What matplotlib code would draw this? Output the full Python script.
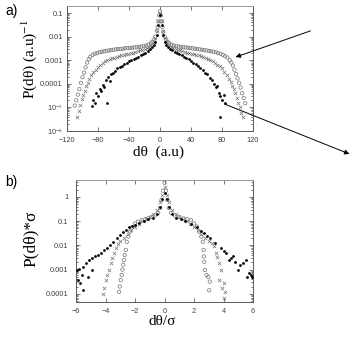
import matplotlib
matplotlib.use("Agg")
import matplotlib.pyplot as plt
from matplotlib.patches import FancyArrowPatch
from matplotlib.ticker import FixedLocator, FixedFormatter, LogLocator, NullFormatter

# ---- panel a data ----
a_circ_x = [-110, -108, -106, -104, -102, -100, -98, -96, -94, -92, -90, -87, -84, -81, -78, -75,
            -72, -69, -66, -63, -60, -57, -54, -51, -48, -45, -42, -39, -36, -33, -30, -27, -24,
            -21, -18, -15, -12, -10, -8, -6, -4, -3, -2, -1, 0, 1, 2, 3, 4, 6, 8, 10, 12, 15,
            18, 21, 24, 27, 30, 33, 36, 39, 42, 45, 48, 51, 54, 57, 60, 63, 66, 69, 72, 75, 78,
            81, 84, 87, 90, 92, 94, 96, 98, 100, 102, 104, 106, 108, 110]
a_circ_y = [1.2e-5, 2e-5, 3.5e-5, 6e-5, 1.1e-4, 1.9e-4, 3e-4, 5e-4, 8e-4, 1.1e-3, 1.4e-3, 1.7e-3,
            1.9e-3, 2.0e-3, 2.2e-3, 2.3e-3, 2.4e-3, 2.5e-3, 2.6e-3, 2.7e-3, 2.8e-3, 2.9e-3,
            3.0e-3, 3.0e-3, 3.1e-3, 3.2e-3, 3.3e-3, 3.3e-3, 3.4e-3, 3.5e-3, 3.6e-3, 3.7e-3,
            3.8e-3, 4.0e-3, 4.2e-3, 4.6e-3, 5.2e-3, 6e-3, 7.5e-3, 1e-2, 1.8e-2, 2.6e-2, 4.5e-2,
            8e-2, 0.12, 8e-2, 4.5e-2, 2.6e-2, 1.6e-2, 1e-2, 7.5e-3, 6e-3, 5.2e-3, 4.6e-3,
            4.2e-3, 4.0e-3, 3.8e-3, 3.7e-3, 3.6e-3, 3.5e-3, 3.4e-3, 3.3e-3, 3.2e-3, 3.1e-3,
            3.0e-3, 2.9e-3, 2.8e-3, 2.7e-3, 2.6e-3, 2.5e-3, 2.4e-3, 2.3e-3, 2.2e-3, 2.0e-3,
            1.9e-3, 1.7e-3, 1.5e-3, 1.3e-3, 1.0e-3, 8e-4, 6e-4, 4e-4, 2.6e-4, 1.7e-4, 1.1e-4,
            7e-5, 4e-5, 2.5e-5, 1.5e-5]

a_cross_x = [-107, -105, -103, -101, -99, -97, -95, -93, -91, -89, -86, -83, -80, -77, -74, -71,
             -68, -65, -62, -59, -56, -53, -50, -47, -44, -41, -38, -35, -32, -29, -26, -23, -20,
             -17, -14, -11, -8, -6, -4, -2, 0, 2, 4, 6, 8, 11, 14, 17, 20, 23, 26, 29, 32, 35,
             38, 41, 44, 47, 50, 53, 56, 59, 62, 65, 68, 71, 74, 77, 80, 83, 86, 89, 91, 93, 95,
             97, 99, 101, 103, 105, 107]
a_cross_y = [4e-6, 7e-6, 1.3e-5, 2.2e-5, 3.5e-5, 5e-5, 8e-5, 1.1e-4, 1.6e-4, 2.3e-4, 3.2e-4, 4e-4,
             5e-4, 6.2e-4, 7.5e-4, 9e-4, 1.0e-3, 1.1e-3, 1.2e-3, 1.3e-3, 1.4e-3, 1.5e-3, 1.6e-3,
             1.7e-3, 1.8e-3, 1.9e-3, 2.0e-3, 2.1e-3, 2.3e-3, 2.4e-3, 2.6e-3, 2.8e-3, 3.0e-3,
             3.3e-3, 3.8e-3, 4.5e-3, 6e-3, 9e-3, 1.8e-2, 4.5e-2, 0.1, 4.5e-2, 1.8e-2, 9e-3, 6e-3,
             4.5e-3, 3.8e-3, 3.3e-3, 3.0e-3, 2.8e-3, 2.6e-3, 2.4e-3, 2.2e-3, 2.1e-3, 2.0e-3,
             1.9e-3, 1.8e-3, 1.7e-3, 1.6e-3, 1.5e-3, 1.4e-3, 1.2e-3, 1.1e-3, 1.0e-3, 9e-4,
             7.5e-4, 6.5e-4, 5.5e-4, 4.5e-4, 3.3e-4, 2.3e-4, 1.6e-4, 1.2e-4, 8e-5, 6e-5, 4e-5,
             2.5e-5, 1.6e-5, 1e-5, 6e-6, 4e-6]

a_dot_x = [-88, -86, -84, -82, -80, -78, -76, -74, -72, -70, -69, -67, -65, -63, -61, -58, -55,
           -52, -49, -46, -43, -40, -37, -34, -31, -28, -25, -22, -19, -16, -13, -10, -8, -6, -4,
           -2, 0, 2, 4, 6, 8, 10, 13, 16, 19, 22, 25, 28, 31, 34, 37, 40, 43, 46, 49, 52, 55, 58,
           61, 64, 67, 70, 72, 74, 76, 78, 80, 82, 84, 77]
a_dot_y = [1.2e-5, 2e-5, 1.5e-5, 4e-5, 3e-5, 6e-5, 5e-5, 9e-5, 7e-5, 1.5e-4, 1.5e-5, 2e-4, 1.3e-4,
           2.5e-4, 3e-4, 3.5e-4, 4.5e-4, 5e-4, 5.5e-4, 7e-4, 8e-4, 9e-4, 1.0e-3, 1.1e-3, 1.3e-3,
           1.4e-3, 1.6e-3, 1.8e-3, 2.1e-3, 2.4e-3, 2.9e-3, 3.5e-3, 4.5e-3, 6e-3, 1.2e-2, 3e-2,
           0.08, 3e-2, 1.2e-2, 6e-3, 4.5e-3, 3.6e-3, 3e-3, 2.6e-3, 2.3e-3, 2.0e-3, 1.8e-3, 1.6e-3,
           1.4e-3, 1.2e-3, 1.1e-3, 9e-4, 8e-4, 7e-4, 5.5e-4, 4.5e-4, 4e-4, 3e-4, 2.5e-4, 1.8e-4,
           1.5e-4, 1e-4, 7e-5, 8e-5, 4e-5, 3e-5, 2e-5, 3.5e-5, 1.5e-5, 4e-6]

# ---- panel b data ----
b_circ_x = [-3.08, -3.03, -2.97, -2.9, -2.85, -2.8, -2.75, -2.7, -2.62, -2.56, -2.45, -2.34, -2.2,
            -2.0, -1.8, -1.55, -1.3, -1.1, -0.88, -0.65, -0.43, -0.3, -0.2, -0.1, 0.0, 0.1, 0.2,
            0.3, 0.45, 0.7, 1.0, 1.3, 1.55, 1.8, 2.0, 2.2, 2.35, 2.5, 2.6, 2.65, 2.67, 2.7, 2.74,
            2.85, 2.97, 3.03, 3.07]
b_circ_y = [1.2e-4, 2e-4, 3.7e-4, 6e-4, 1e-3, 1.6e-3, 2.5e-3, 4e-3, 6.5e-3, 1.4e-2, 2.3e-2,
            3.7e-2, 5.5e-2, 8e-2, 9.5e-2, 0.11, 0.12, 0.13, 0.15, 0.17, 0.22, 0.35, 0.75, 1.8,
            3.8, 1.8, 0.75, 0.35, 0.22, 0.17, 0.15, 0.13, 0.12, 0.11, 8e-2, 6e-2, 3.7e-2, 2.3e-2,
            1.4e-2, 6.5e-3, 3.5e-3, 2.1e-3, 9.7e-4, 6e-4, 5e-4, 1.4e-4, 3.2e-4]

b_cross_x = [-4.2, -4.1, -4.0, -3.9, -3.77, -3.65, -3.55, -3.45, -3.32, -3.15, -3.0, -2.75, -2.5,
             -2.25, -2.0, -1.75, -1.5, -1.25, -1.0, -0.75, -0.5, -0.3, -0.15, 0.0, 0.15, 0.3, 0.5,
             0.75, 1.0, 1.25, 1.5, 1.75, 2.0, 2.25, 2.5, 2.75, 3.0, 3.2, 3.35, 3.5, 3.57, 3.68,
             3.8, 3.7, 4.0, 3.9, 4.0, 4.1]
b_cross_y = [1e-4, 1.7e-4, 3.7e-4, 6e-4, 1e-3, 1.8e-3, 3e-3, 5e-3, 7.8e-3, 1.1e-2, 1.5e-2, 2.1e-2,
             3e-2, 4.3e-2, 6e-2, 8e-2, 0.1, 0.12, 0.15, 0.19, 0.3, 0.6, 1.2, 2.6, 1.2, 0.6, 0.3,
             0.19, 0.15, 0.12, 0.1, 8e-2, 6e-2, 4.3e-2, 3e-2, 2.1e-2, 1.5e-2, 1.2e-2, 9e-3,
             5e-3, 3.4e-3, 1.8e-3, 9.7e-4, 3.7e-4, 2.7e-4, 1.7e-4, 6.6e-5, 1.2e-4]

b_dot_x = [-5.9, -5.85, -5.8, -5.75, -5.6, -5.5, -5.5, -5.3, -5.2, -5.1, -4.9, -4.9, -4.7, -4.5,
           -4.3, -4.1, -3.9, -3.7, -3.5, -3.25, -3.0, -2.8, -2.6, -2.4, -2.2, -2.0, -1.7, -1.4,
           -1.1, -0.8, -0.5, -0.3, -0.15, 0.0, 0.15, 0.3, 0.5, 0.8, 1.1, 1.4, 1.8, 2.2, 2.45,
           2.67, 2.9, 3.1, 3.4, 3.8, 4.0, 4.2, 4.35, 4.5, 4.65, 4.8, 4.95, 5.1, 5.3, 5.5, 5.6,
           5.75, 5.84, 5.95]
b_dot_y = [1.0e-3, 3.7e-4, 1.1e-3, 2.7e-4, 6e-4, 1.3e-3, 1.5e-4, 1.8e-3, 5e-4, 2.5e-3, 3e-3,
           1e-3, 3.5e-3, 4e-3, 5e-3, 6.5e-3, 8e-3, 1e-2, 1.4e-2, 2e-2, 2.7e-2, 3.7e-2, 4.5e-2,
           5.5e-2, 6.3e-2, 7e-2, 8.5e-2, 0.1, 0.12, 0.14, 0.2, 0.4, 0.8, 1.5, 0.8, 0.4, 0.2,
           0.14, 0.12, 0.1, 8e-2, 5.5e-2, 4e-2, 3.2e-2, 2.5e-2, 2e-2, 1.3e-2, 7.8e-3, 6e-3,
           4.8e-3, 2.5e-3, 3e-3, 3.5e-3, 2.1e-3, 1e-3, 1.5e-3, 1.8e-3, 2.5e-3, 5e-4, 7.2e-4,
           6e-4, 5e-4]

a_yticks = [1e-6, 1e-5, 1e-4, 1e-3, 1e-2, 1e-1]
a_yticklabels = ["10$^{-6}$", "10$^{-5}$", "0.0001", "0.001", "0.01", "0.1"]
a_xticks = [-120, -80, -40, 0, 40, 80, 120]
b_yticks = [1e-4, 1e-3, 1e-2, 1e-1, 1]
b_yticklabels = ["0.0001", "0.001", "0.01", "0.1", "1"]
b_xticks = [-6, -4, -2, 0, 2, 4, 6]

plt.rcParams['font.family'] = ['Liberation Sans', 'DejaVu Sans']
plt.rcParams['mathtext.fontset'] = 'stix'
serif = 'Liberation Serif'

W, H = 354, 348
fig = plt.figure(figsize=(W / 100, H / 100), dpi=100)
ax_a = fig.add_axes([67 / W, 1 - 131 / H, 186 / W, 125 / H])
ax_b = fig.add_axes([76 / W, 1 - 302 / H, 177 / W, 122 / H])


def draw_series(ax, cx, cy, xx, xy, dx, dy):
    ax.scatter(cx, cy, s=6, facecolors='none', edgecolors='0.45', linewidths=0.5, zorder=2)
    ax.scatter(xx, xy, s=6, marker='x', color='0.45', linewidths=0.5, zorder=3)
    ax.scatter(dx, dy, s=4, color='black', linewidths=0, zorder=4)


def style_axes(ax, xticks, yticks, yticklabels, ypad):
    ax.set_yscale('log')
    ax.set_xticks(xticks)
    ax.yaxis.set_major_locator(FixedLocator(yticks))
    ax.yaxis.set_major_formatter(FixedFormatter(yticklabels))
    ax.yaxis.set_minor_locator(LogLocator(base=10, subs=range(2, 10)))
    ax.yaxis.set_minor_formatter(NullFormatter())
    ax.tick_params(which='both', direction='in', top=True, right=True, labelsize=5.3,
                   colors='0.25', width=0.5, pad=4)
    ax.tick_params(axis='y', pad=ypad)
    ax.tick_params(which='major', length=3)
    ax.tick_params(which='minor', length=1.5)
    for s in ax.spines.values():
        s.set_color('0.35')
        s.set_linewidth(0.7)
    ax.spines['top'].set_color('0.6')


draw_series(ax_a, a_circ_x, a_circ_y, a_cross_x, a_cross_y, a_dot_x, a_dot_y)
style_axes(ax_a, a_xticks, a_yticks, a_yticklabels, 3)
ax_a.set_xlim(-120, 120)
ax_a.set_ylim(1e-6, 0.2)
ax_a.set_xlabel("dθ  (a.u)", fontsize=11, family=serif)
ax_a.set_ylabel("P(dθ) (a.u)$^{-1}$", fontsize=11, family=serif)
ax_a.xaxis.set_label_coords(0.49, -0.12)
ax_a.yaxis.set_label_coords(-0.15, 0.575)

draw_series(ax_b, b_circ_x, b_circ_y, b_cross_x, b_cross_y, b_dot_x, b_dot_y)
style_axes(ax_b, b_xticks, b_yticks, b_yticklabels, 5.5)
ax_b.set_xlim(-6, 6)
ax_b.set_ylim(4.6e-5, 5)
ax_b.set_xlabel("dθ/σ", fontsize=11, family=serif)
ax_b.set_ylabel("P(dθ)*σ", fontsize=12.5, family=serif)
ax_b.xaxis.set_label_coords(0.486, -0.105)
ax_b.yaxis.set_label_coords(-0.209, 0.516)

fig.text(5 / W, 1 - 11 / H, "a)", fontsize=10, va='center', ha='left')
fig.text(5 / W, 1 - 182 / H, "b)", fontsize=10, va='center', ha='left')

# pointer arrows
arrow_kw = dict(arrowstyle='-|>', color='black', lw=0.7, mutation_scale=7)
fig.add_artist(FancyArrowPatch((313 / W, 1 - 30 / H), (233 / W, 1 - 58 / H),
                               transform=fig.transFigure, **arrow_kw))
fig.add_artist(FancyArrowPatch((222 / W, 1 - 103 / H), (352 / W, 1 - 155 / H),
                               transform=fig.transFigure, **arrow_kw))

fig.savefig("out.png", dpi=100)
